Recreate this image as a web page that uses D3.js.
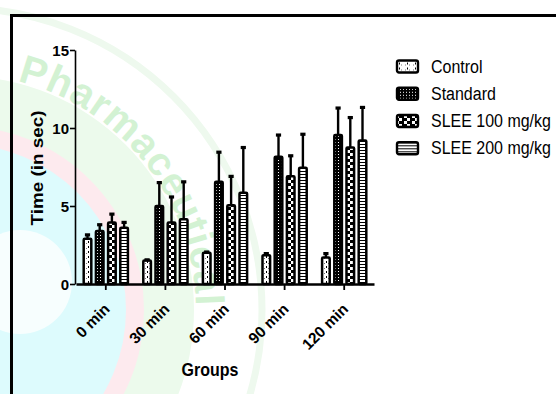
<!DOCTYPE html>
<html>
<head>
<meta charset="utf-8">
<script src="https://cdn.jsdelivr.net/npm/d3@7"></script>
<style>
  body { margin: 0; background: #fff; }
  svg { display: block; font-family: Arial, "Liberation Sans", sans-serif; }
</style>
</head>
<body>
<div id="chart"></div>
<script>
// groups on the x axis
const groups = ['0 min', '30 min', '60 min', '90 min', '120 min'];
const seriesNames = ['Control', 'Standard', 'SLEE 100 mg/kg', 'SLEE 200 mg/kg'];

// mean time (sec) and upper error per group
const controlMean = [2.9, 1.5, 2.0, 1.85, 1.7];
const controlErr = [0.3, 0.1, 0.1, 0.15, 0.3];
const standardMean = [3.4, 5.0, 6.55, 8.15, 9.55];
const standardErr = [0.45, 1.55, 1.95, 1.45, 1.78];
const slee100Mean = [3.95, 3.95, 5.05, 6.9, 8.75];
const slee100Err = [0.58, 1.68, 1.9, 1.37, 1.97];
const slee200Mean = [3.6, 4.15, 5.85, 7.45, 9.2];
const slee200Err = [0.4, 2.45, 2.95, 2.2, 2.17];

const yTicks = [0, 5, 10, 15];

const means = [controlMean, standardMean, slee100Mean, slee200Mean];
const errs = [controlErr, standardErr, slee100Err, slee200Err];
const fills = ['ctrl', 'std', 's100', 's200'];

const rows = [];
groups.forEach((g, gi) => {
    seriesNames.forEach((s, si) => {
        rows.push({ id: `b${gi}_${si}`, group: g, series: s, value: means[si][gi], err: errs[si][gi], kind: fills[si] });
    });
});

const W = 556, H = 394;
const svg = d3.select('#chart').append('svg').attr('width', W).attr('height', H);
const defs = svg.append('defs');

// faint journal watermark behind the chart
const wm = svg.append('g');
const cx = -40, cy = 310;
wm.append('circle').attr('cx', cx).attr('cy', cy).attr('r', 302).attr('fill', 'none')
    .attr('stroke', '#eef9ee').attr('stroke-width', 7);
wm.append('circle').attr('cx', cx).attr('cy', cy).attr('r', 234).attr('fill', '#ecfaec');
wm.append('circle').attr('cx', cx).attr('cy', cy).attr('r', 184).attr('fill', '#fdeaee');
wm.append('circle').attr('cx', cx).attr('cy', cy).attr('r', 166).attr('fill', '#ddfbfd');
wm.append('circle').attr('cx', 20).attr('cy', 282).attr('r', 52).attr('fill', '#f7fefe');

// watermark word, one letter at a time along the arc
const wmWord = 'Pharmaceutical';
const wmR = 236;
let theta = -76 * Math.PI / 180;
wmWord.split('').forEach(ch => {
    const t = wm.append('text')
        .attr('font-size', 40).attr('font-weight', 'bold').attr('fill', '#d3f2d3')
        .attr('text-anchor', 'middle')
        .text(ch);
    const w = t.node().getComputedTextLength();
    const mid = theta + (w / 2) / wmR;
    const px = cx + wmR * Math.cos(mid), py = cy + wmR * Math.sin(mid);
    t.attr('transform', `translate(${px},${py}) rotate(${mid * 180 / Math.PI + 90})`);
    theta += (w + 1) / wmR;
});

// frame
svg.append('rect')
    .attr('x', 11.5).attr('y', 15.5)
    .attr('width', 600).attr('height', 500)
    .attr('fill', 'none').attr('stroke', '#000').attr('stroke-width', 3);

// fill patterns, one per mark so the motif lines up with its bar
function makePattern(id, kind, left) {
    left = Math.round(left);
    if (kind === 'ctrl') {
        const p = defs.append('pattern').attr('id', id).attr('patternUnits', 'userSpaceOnUse')
            .attr('x', left).attr('y', 0).attr('width', 8).attr('height', 5);
        p.append('rect').attr('width', 8).attr('height', 5).attr('fill', '#fff');
        p.append('rect').attr('x', 4).attr('y', 1).attr('width', 1).attr('height', 2).attr('fill', '#000');
        p.append('rect').attr('x', 2).attr('y', 3).attr('width', 1).attr('height', 1).attr('fill', '#777');
        p.append('rect').attr('x', 6).attr('y', 3).attr('width', 1).attr('height', 1).attr('fill', '#777');
    } else if (kind === 'std') {
        const p = defs.append('pattern').attr('id', id).attr('patternUnits', 'userSpaceOnUse')
            .attr('x', left).attr('y', 0).attr('width', 3).attr('height', 3);
        p.append('rect').attr('width', 3).attr('height', 3).attr('fill', '#000');
        p.append('rect').attr('x', 1).attr('y', 1).attr('width', 1).attr('height', 1).attr('fill', '#fff');
    } else if (kind === 's100') {
        const p = defs.append('pattern').attr('id', id).attr('patternUnits', 'userSpaceOnUse')
            .attr('x', left).attr('y', 0).attr('width', 8).attr('height', 6);
        p.append('rect').attr('width', 8).attr('height', 6).attr('fill', '#000');
        p.append('rect').attr('x', 1).attr('y', 0).attr('width', 3).attr('height', 3).attr('fill', '#fff');
        p.append('rect').attr('x', 4).attr('y', 3).attr('width', 3).attr('height', 3).attr('fill', '#fff');
    } else {
        const p = defs.append('pattern').attr('id', id).attr('patternUnits', 'userSpaceOnUse')
            .attr('x', left).attr('y', 0).attr('width', 8).attr('height', 3);
        p.append('rect').attr('width', 8).attr('height', 3).attr('fill', '#fff');
        p.append('rect').attr('y', 0).attr('width', 8).attr('height', 1).attr('fill', '#000');
    }
}

// scales
const x0 = d3.scaleBand().domain(groups).range([76, 374]).padding(0);
const x1 = d3.scaleBand().domain(seriesNames).range([6.5, x0.bandwidth() - 6.5]).paddingInner(0.18);
const y = d3.scaleLinear().domain([0, 15]).range([284, 50]);

const barX = d => x0(d.group) + x1(d.series);
const barMid = d => barX(d) + x1.bandwidth() / 2;

rows.forEach(d => makePattern(d.id, d.kind, barX(d) + 1));

const chart = svg.append('g');

// bars
chart.selectAll('.bar')
    .data(rows)
    .join('rect')
    .attr('class', 'bar')
    .attr('x', d => barX(d) + 1.2)
    .attr('y', d => y(d.value))
    .attr('width', x1.bandwidth() - 2.4)
    .attr('height', d => y(0) - y(d.value))
    .attr('rx', 1)
    .attr('fill', d => `url(#${d.id})`)
    .attr('stroke', '#000')
    .attr('stroke-width', 2.5);

// error bars (upper only)
const eb = chart.selectAll('.err').data(rows).join('g').attr('class', 'err');
eb.append('line')
    .attr('x1', barMid).attr('x2', barMid)
    .attr('y1', d => y(d.value))
    .attr('y2', d => y(d.value + d.err))
    .attr('stroke', '#000').attr('stroke-width', 2.4);
eb.append('line')
    .attr('x1', d => barMid(d) - 2.6)
    .attr('x2', d => barMid(d) + 2.6)
    .attr('y1', d => y(d.value + d.err) + 0.8)
    .attr('y2', d => y(d.value + d.err) + 0.8)
    .attr('stroke', '#000').attr('stroke-width', 3.2);

// y axis
const yAxis = svg.append('g')
    .attr('transform', 'translate(75,0)')
    .call(d3.axisLeft(y).tickValues(yTicks).tickSize(5).tickSizeOuter(0));
yAxis.select('.domain').attr('stroke-width', 1.6);
yAxis.selectAll('.tick line').attr('stroke-width', 1.6);
yAxis.selectAll('.tick text')
    .style('font-size', '15px').style('font-weight', 'bold').attr('fill', '#000')
    .style('font-family', 'Arial, "Liberation Sans", sans-serif')
    .attr('x', -6).attr('dy', '0.36em');

// x axis
const xAxis = svg.append('g')
    .attr('transform', `translate(0,${y(0)})`)
    .call(d3.axisBottom(x0).tickSize(6).tickSizeOuter(0));
xAxis.select('.domain').attr('stroke-width', 2.6);
xAxis.selectAll('.tick line').attr('stroke-width', 1.8);
xAxis.selectAll('.tick text')
    .style('font-size', '15.5px').style('font-weight', 'bold').attr('fill', '#000')
    .style('font-family', 'Arial, "Liberation Sans", sans-serif')
    .attr('text-anchor', 'end')
    .attr('x', 0).attr('y', 0).attr('dy', 0)
    .attr('transform', 'translate(5,26) rotate(-45)');

// axis titles
svg.append('text')
    .attr('transform', 'translate(43,168) rotate(-90) scale(1.18,1)')
    .attr('text-anchor', 'middle')
    .attr('font-size', 16).attr('font-weight', 'bold')
    .text('Time (in sec)');

svg.append('text')
    .attr('transform', 'translate(210,376) scale(1,1.18)')
    .attr('text-anchor', 'middle')
    .attr('font-size', 16).attr('font-weight', 'bold')
    .text('Groups');

// legend
const legendY = [66.5, 93.8, 121, 148.3];
seriesNames.forEach((s, i) => makePattern(`lg${i}`, fills[i], 398));
const legend = svg.append('g');
const li = legend.selectAll('g').data(seriesNames).join('g')
    .attr('transform', (d, i) => `translate(397,${legendY[i]})`);
li.append('rect')
    .attr('x', 0).attr('y', -6).attr('width', 21).attr('height', 12).attr('rx', 2)
    .attr('fill', (d, i) => `url(#lg${i})`)
    .attr('stroke', '#000').attr('stroke-width', 2.4);
li.append('text')
    .attr('transform', 'translate(34,6) scale(1,1.1)')
    .attr('font-size', 16)
    .text(d => d);
</script>
</body>
</html>
